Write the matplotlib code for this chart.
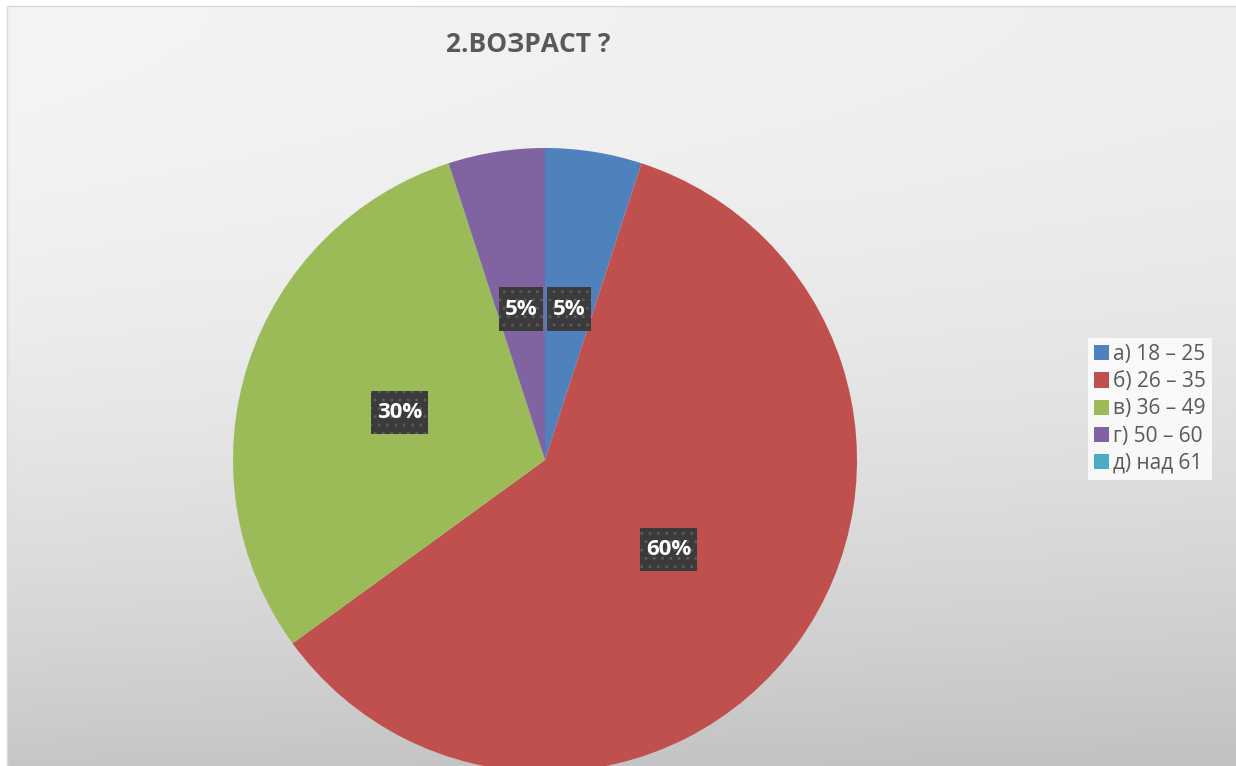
import matplotlib
matplotlib.use("Agg")
import matplotlib.pyplot as plt
import numpy as np
from matplotlib.patches import Rectangle
from matplotlib.path import Path

# data
labels = ["а) 18 – 25", "б) 26 – 35", "в) 36 – 49", "г) 50 – 60", "д) над 61"]
values = [5, 60, 30, 5, 0]
colors = ["#4f81bd", "#c0504d", "#9bbb59", "#8064a2", "#4bacc6"]
title = "2.ВОЗРАСТ ?"

W, H = 1236, 766
fig = plt.figure(figsize=(W / 100, H / 100), dpi=100)
fig.patch.set_facecolor("white")
ax = fig.add_axes([0, 0, 1, 1])
ax.set_xlim(0, W); ax.set_ylim(0, H)
ax.set_aspect("equal")
ax.axis("off")

# chart-area gradient background (lighter top, grey bottom)
xs = np.linspace(0, 1, 300)
ys = np.linspace(0, 1, 200)
X, Y = np.meshgrid(xs, ys)
g = (244 - 6 * X - 45 * Y ** 2) / 255.
img = np.dstack([g, g, g])
x0, y0 = 7, 6
ax.imshow(img, extent=(x0, W, 0, H - y0), origin="upper", zorder=0, aspect="auto")
ax.add_patch(Rectangle((x0, -2), W, H - y0 + 2, fill=False, ec="#d9d9d9", lw=1, zorder=1))

cx, cy, r = 545, H - 460, 312


def fmt(p):
    return f"{p:.0f}%" if p > 0.5 else ""


def label_box(x0, y0, width, height, mutation_size):
    # square box, more padding top/bottom than left/right
    px, py = 0.27 * mutation_size, 0.5 * mutation_size
    x0, x1 = x0 - px, x0 + width + px
    y0, y1 = y0 - py, y0 + height + py
    return Path([(x0, y0), (x1, y0), (x1, y1), (x0, y1), (x0, y0)], closed=True)


wedges, _, autotexts = ax.pie(values, colors=colors, startangle=90, counterclock=False,
                              center=(cx, cy), radius=r, autopct=fmt, pctdistance=0.49,
                              wedgeprops=dict(lw=0), frame=True)
ax.set_xlim(0, W); ax.set_ylim(0, H); ax.axis("off")
for w in wedges:
    w.set_zorder(2)
for t in autotexts:
    t.set_color("white"); t.set_fontsize(16); t.set_fontweight("bold")
    t.set_family(["Open Sans", "DejaVu Sans"]); t.set_zorder(4)
    if t.get_text():
        t.set_bbox(dict(boxstyle=label_box, fc="#3b3b3b", ec="#5a5a5a", lw=0, hatch=".."))

fig.text(528 / W, 1 - 45 / H, title, ha="center", va="center", fontsize=19, fontweight="bold",
         color="#595959", family=["Open Sans", "DejaVu Sans"])

leg = ax.legend(wedges, labels, loc="center left", bbox_to_anchor=(1088 / W, 1 - 409 / H),
                bbox_transform=fig.transFigure, frameon=True, fancybox=False,
                prop=dict(family=["Open Sans", "DejaVu Sans"], size=15),
                handlelength=0.7, handleheight=0.75, handletextpad=0.2, labelspacing=0.3,
                borderpad=0.3, borderaxespad=0)
leg.get_frame().set_facecolor("white"); leg.get_frame().set_edgecolor("none")
for txt in leg.get_texts():
    txt.set_color("#595959")
leg.set_zorder(5)

fig.savefig("out.png", dpi=100)
